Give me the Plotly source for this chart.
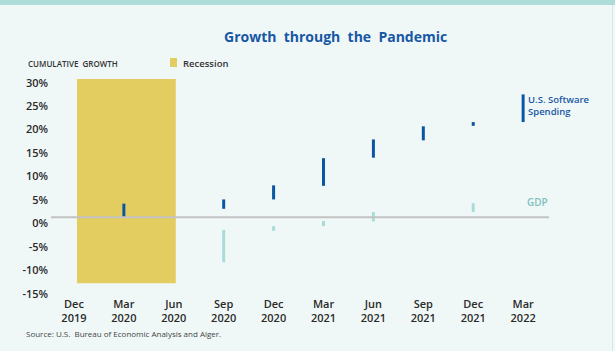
import plotly.graph_objects as go

categories = ["Dec<br>2019", "Mar<br>2020", "Jun<br>2020", "Sep<br>2020", "Dec<br>2020",
              "Mar<br>2021", "Jun<br>2021", "Sep<br>2021", "Dec<br>2021", "Mar<br>2022"]
# floating bars: (start, end) in %
software_low = [None, 1.3, None, 3.1, 5.1, 8.0, 14.0, 17.7, 20.8, 21.6]
software_high = [None, 4.2, None, 5.1, 8.1, 13.9, 17.9, 20.7, 21.6, 27.5]
gdp_low = [None, None, None, -8.3, -1.6, -0.6, 0.4, None, 2.4, None]
gdp_high = [None, None, None, -1.4, -0.6, 0.5, 2.4, None, 4.3, None]
baseline_value = 1.3
recession_top, recession_bottom = 30.8, -12.8
y_ticks = [30, 25, 20, 15, 10, 5, 0, -5, -10, -15]

xs = list(range(len(categories)))
BLUE = "#0B56A4"
TEAL = "#A9DCD8"
YEL = "#E3CD60"
BG = "#F0F8F7"
FONT = "Open Sans"

W, H = 615, 351
L, R, T, B = 49, 17, 78, 55
PW, PH = W - L - R, H - T - B

def px(x):
    return (x - L) / PW

def py(y):
    return (H - B - y) / PH

fig = go.Figure()

def add_bars(lows, highs, color, name):
    bx, bb, bh = [], [], []
    for x, lo, hi in zip(xs, lows, highs):
        if lo is None:
            continue
        bx.append(x)
        bb.append(lo)
        bh.append(hi - lo)
    fig.add_trace(go.Bar(x=bx, y=bh, base=bb, width=0.06, marker_color=color,
                         marker_line_width=0, name=name, showlegend=False))

add_bars(gdp_low, gdp_high, TEAL, "GDP")
add_bars(software_low, software_high, BLUE, "U.S. Software Spending")

fig.add_shape(type="rect", xref="x", yref="y", x0=0.06, x1=2.04,
              y0=recession_bottom, y1=recession_top, fillcolor=YEL,
              line_width=0, layer="below")
fig.add_shape(type="line", xref="x", yref="y", x0=-0.46, x1=9.52,
              y0=baseline_value, y1=baseline_value,
              line=dict(color="#C3C3C3", width=2), layer="above")
# top band
fig.add_shape(type="rect", xref="paper", yref="paper", x0=px(-5), x1=px(W + 5),
              y0=py(5), y1=py(-5), fillcolor="#ADDCD9", line_width=0)
# right border
fig.add_shape(type="line", xref="paper", yref="paper", x0=px(612.5), x1=px(612.5),
              y0=py(5), y1=py(H + 5), line=dict(color="#D6E9E8", width=1))

fig.update_layout(
    width=W, height=H,
    margin=dict(l=L, r=R, t=T, b=B),
    paper_bgcolor=BG, plot_bgcolor=BG,
    showlegend=False, barmode="overlay",
    font=dict(family=FONT, color="#333333"),
    xaxis=dict(range=[-0.5, 10.5], tickmode="array", tickvals=xs, ticktext=categories,
               showgrid=False, zeroline=False, showline=False, ticks="",
               tickfont=dict(size=11, color="#2a2a2a", weight=600)),
    yaxis=dict(range=[-15.5, 31], tickmode="array", tickvals=y_ticks,
               ticktext=[f"{v}%" for v in y_ticks], showgrid=False, zeroline=False,
               showline=False, ticks="", tickfont=dict(size=11, color="#2a2a2a", weight=600)),
)

fig.add_annotation(xref="paper", yref="paper", x=px(335), y=py(37),
                   text="<b>Growth  through  the  Pandemic</b>", showarrow=False,
                   font=dict(size=14, color="#1757A5", family=FONT),
                   xanchor="center", yanchor="middle")
fig.add_annotation(xref="paper", yref="paper", x=px(26), y=py(64),
                   text="CUMULATIVE  GROWTH", showarrow=False,
                   font=dict(size=8, color="#333333", weight=600), xanchor="left", yanchor="middle")
fig.add_shape(type="rect", xref="paper", yref="paper",
              x0=px(170), x1=px(177), y0=py(67), y1=py(58),
              fillcolor=YEL, line_width=0)
fig.add_annotation(xref="paper", yref="paper", x=px(181), y=py(64),
                   text="Recession", showarrow=False,
                   font=dict(size=9.5, color="#333333", weight=600), xanchor="left", yanchor="middle")
fig.add_annotation(xref="x", yref="y", x=9.05, y=28.3,
                   text="U.S. Software<br>Spending", showarrow=False, align="left",
                   font=dict(size=9.5, color="#1757A5", weight=600), xanchor="left", yanchor="top")
fig.add_annotation(xref="x", yref="y", x=9.03, y=4.5,
                   text="GDP", showarrow=False, align="left",
                   font=dict(size=10, color="#7FBFBE", weight=600), xanchor="left", yanchor="middle")
fig.add_annotation(xref="paper", yref="paper", x=px(24), y=py(333),
                   text="Source: U.S.  Bureau of Economic Analysis and Alger.", showarrow=False,
                   font=dict(size=8, color="#444444"), xanchor="left", yanchor="middle")

fig.write_html("out.html")
